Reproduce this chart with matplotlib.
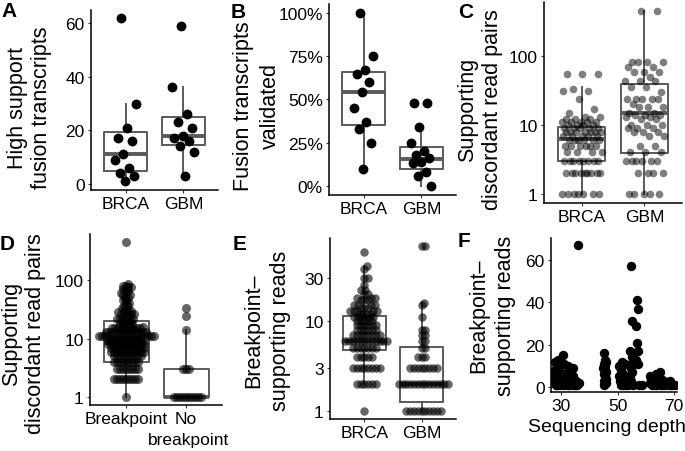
import numpy as np
import matplotlib
matplotlib.use("Agg")
import matplotlib.pyplot as plt

plt.rcParams['font.family'] = ['Liberation Sans', 'DejaVu Sans']

W, H = 685, 452

# ---- data ----
groups = ['BRCA', 'GBM']

# A: high support fusion transcripts per sample
a_brca = [62, 30, 21, 17, 16, 11, 9, 6, 4, 3, 1]
a_gbm = [59, 36, 26, 23, 21, 18, 17, 16, 14, 12, 3]
a_box = [[1, 5, 11, 19.3, 30], [3, 14.7, 18, 24.8, 36]]  # lo, q1, med, q3, hi

# B: fraction validated
b_brca = [1.00, 0.75, 0.67, 0.65, 0.60, 0.545, 0.45, 0.37, 0.33, 0.25, 0.10]
b_gbm = [0.48, 0.48, 0.34, 0.25, 0.20, 0.18, 0.16, 0.14, 0.13, 0.08, 0.06, 0.0]
b_box = [[0.10, 0.35, 0.545, 0.66, 1.0], [0.0, 0.10, 0.155, 0.225, 0.32]]

# C: discordant read pairs (value, count)
c_brca_vals = [1, 2, 3, 4, 5, 6, 7, 8, 9, 10, 11, 12, 13, 15, 17, 24, 31, 33, 55]
c_brca_counts = [7, 9, 8, 4, 6, 6, 5, 7, 5, 4, 5, 3, 2, 1, 1, 1, 2, 1, 3]
c_gbm_vals = [1, 2, 3, 4, 5, 7, 8, 9, 10, 12, 13, 14, 15, 18, 20, 24, 30, 35, 43, 50, 59, 70, 81, 454]
c_gbm_counts = [5, 4, 6, 3, 2, 2, 3, 3, 3, 2, 2, 3, 2, 3, 1, 5, 1, 2, 3, 1, 3, 2, 4, 2]
c_box = [[1, 3, 6.2, 9.2, 35], [1, 3.9, 14.8, 39, 454]]

# D: discordant read pairs by breakpoint status
d_groups = ['Breakpoint', 'No']
d_group2_line2 = 'breakpoint'
d_bp_vals = [1, 2, 3, 4, 5, 6, 7, 8, 9, 10, 11, 12, 13, 14, 15, 16, 18, 20, 22, 24,
             26, 28, 30, 33, 36, 40, 45, 50, 55, 60, 65, 70, 75, 80, 85, 452]
d_bp_counts = [1, 9, 8, 9, 10, 12, 12, 13, 12, 11, 9, 8, 7, 6, 5, 5, 5, 4, 3, 3,
               3, 2, 3, 2, 2, 2, 2, 2, 2, 2, 1, 2, 2, 2, 1, 1]
d_nobp_vals = [1, 3, 14, 24, 33]
d_nobp_counts = [10, 3, 1, 1, 1]
d_box = [[1, 4, 8.5, 20, 85], [1, 1, 1, 3, 14]]

# E: breakpoint-supporting reads
e_brca_vals = [1, 2, 3, 4, 5, 6, 7, 8, 9, 10, 11, 12, 13, 14, 15, 17, 18, 20, 22, 25, 30, 38, 41, 58]
e_brca_counts = [1, 6, 8, 5, 7, 12, 8, 6, 6, 5, 6, 4, 5, 3, 4, 3, 3, 2, 2, 1, 2, 1, 1, 1]
e_gbm_vals = [1, 2, 3, 4, 5, 6, 7, 8, 11, 15, 16, 68]
e_gbm_counts = [10, 14, 8, 3, 2, 2, 2, 2, 1, 1, 1, 2]
e_box = [[2, 4.7, 6, 11.4, 41], [1, 1.26, 2, 5.1, 16]]

# F: reads vs sequencing depth
f_depths = [28, 29, 30, 31, 32, 33, 34, 35, 36, 45.5, 51, 52, 53, 54, 55, 57, 58,
            62, 63, 64, 65, 66, 67, 68, 69, 70]
f_reads = [[1, 2, 3, 4, 5, 6, 8, 10, 12], [1, 2, 4, 7, 13], [1, 3, 5, 9],
           [1, 2, 6, 11, 15], [1, 2, 3, 5], [1, 4, 7, 10], [1, 2, 3, 5, 6, 9],
           [1, 2, 3], [1, 2, 67],
           [1, 2, 3, 4, 5, 6, 7, 8, 9, 10, 11, 12, 13, 16],
           [1, 3, 5, 8, 10, 12], [1, 2, 4, 6, 11], [1], [1],
           [1, 3, 5, 7, 9, 12, 14, 17, 31, 57], [1, 11, 13, 17, 21, 29, 37, 41], [1],
           [1, 2, 3, 4, 5], [1, 2, 6], [1, 3], [1, 2, 4, 7], [1, 3], [1, 2],
           [1, 2, 3], [1, 2], [1]]

BOX_C = '#5a5a5a'


def add_ax(l, t, r, b):
    return fig.add_axes([l / W, 1 - b / H, (r - l) / W, (b - t) / H])


def style(ax):
    for s in ['top', 'right']:
        ax.spines[s].set_visible(False)
    for s in ['left', 'bottom']:
        ax.spines[s].set_linewidth(1.1)
    ax.tick_params(length=2.5, width=0.8, color='#333333', labelsize=12.5,
                   labelcolor='black', pad=2)
    ax.minorticks_off()


def boxes(ax, stats):
    st = [dict(whislo=s[0], q1=s[1], med=s[2], q3=s[3], whishi=s[4], fliers=[])
          for s in stats]
    ax.bxp(st, positions=[1, 2], widths=0.75, showcaps=False, showfliers=False,
           boxprops=dict(color=BOX_C, lw=1.4),
           whiskerprops=dict(color=BOX_C, lw=1.4),
           medianprops=dict(color=BOX_C, lw=2.8), zorder=2)


def jitter(n, width, start=0):
    k = np.arange(n) + start
    return ((k * 0.6180339887 + 0.31) % 1 - 0.5) * 2 * width


def swarm(vals, px_dec, d, px_unit):
    y = np.log10(np.asarray(vals, float)) * px_dec
    xs = np.zeros(len(y))
    placed = []
    for i in np.argsort(y, kind='stable'):
        near = [(px, py) for px, py in placed if abs(py - y[i]) < d]
        cands = [0.0]
        for px, py in near:
            dx = np.sqrt(d * d - (py - y[i]) ** 2)
            cands += [px + dx, px - dx]
        for c in sorted(cands, key=abs):
            if all((c - px) ** 2 + (y[i] - py) ** 2 >= d * d - 1e-6 for px, py in near):
                xs[i] = c
                break
        placed.append((xs[i], y[i]))
    return xs / px_unit


fig = plt.figure(figsize=(W / 100, H / 100), dpi=100)

# ---- A ----
ax = add_ax(91, 10.5, 218, 190.5)
boxes(ax, a_box)
for i, v in enumerate([a_brca, a_gbm]):
    ax.scatter(i + 1 + jitter(len(v), 0.2, i * 5), v, s=50, color='black',
               linewidths=0, zorder=3)
ax.set_ylim(-2.05, 65.05)
ax.set_yticks([0, 20, 40, 60])
ax.set_xlim(0.4, 2.6)
ax.set_xticks([1, 2], groups)
style(ax)

# ---- B ----
ax = add_ax(329, 5.3, 456, 195.6)
boxes(ax, b_box)
for i, v in enumerate([b_brca, b_gbm]):
    ax.scatter(i + 1 + jitter(len(v), 0.18, i * 3), v, s=50, color='black',
               linewidths=0, zorder=3)
ax.set_ylim(-0.05, 1.05)
ax.set_yticks([0, 0.25, 0.5, 0.75, 1.0], ['0%', '25%', '50%', '75%', '100%'])
ax.set_xlim(0.4, 2.6)
ax.set_xticks([1, 2], groups)
style(ax)

# ---- C ----
ax = add_ax(544, 2.5, 682, 204)
ax.set_yscale('log')
boxes(ax, c_box)
for i, (vals, cnts) in enumerate([(c_brca_vals, c_brca_counts), (c_gbm_vals, c_gbm_counts)]):
    v = np.repeat(vals, cnts)
    ax.scatter(i + 1 + jitter(len(v), 0.32, i * 7), v, s=30, color='black',
               alpha=0.5, linewidths=0, zorder=3)
ax.set_ylim(10 ** -0.133, 10 ** 2.79)
ax.set_yticks([1, 10, 100], ['1', '10', '100'])
ax.set_xlim(0.4, 2.6)
ax.set_xticks([1, 2], groups)
style(ax)

# ---- D ----
ax = add_ax(90, 235, 222, 405.8)
ax.set_yscale('log')
boxes(ax, d_box)
for i, (vals, cnts) in enumerate([(d_bp_vals, d_bp_counts), (d_nobp_vals, d_nobp_counts)]):
    v = np.repeat(vals, cnts)
    ax.scatter(i + 1 + swarm(v, 58.5, 3.0, 60), v, s=42, color='black',
               alpha=0.6, linewidths=0, zorder=3)
ax.set_ylim(10 ** -0.133, 10 ** 2.788)
ax.set_yticks([1, 10, 100], ['1', '10', '100'])
ax.set_xlim(0.4, 2.6)
ax.set_xticks([1, 2], d_groups)
style(ax)
# second line of the "No breakpoint" tick label
ax.text(2.05, -0.205, d_group2_line2, transform=ax.get_xaxis_transform(),
        ha='center', va='center', fontsize=12.5)

# ---- E ----
ax = add_ax(330, 238.8, 456, 420.2)
ax.set_yscale('log')
boxes(ax, e_box)
for i, (vals, cnts) in enumerate([(e_brca_vals, e_brca_counts), (e_gbm_vals, e_gbm_counts)]):
    v = np.repeat(vals, cnts)
    ax.scatter(i + 1 + swarm(v, 90, 3.8, 57.3), v, s=37, color='black',
               alpha=0.6, linewidths=0, zorder=3)
ax.set_ylim(10 ** -0.092, 10 ** 1.924)
ax.set_yticks([1, 3, 10, 30], ['1', '3', '10', '30'])
ax.set_xlim(0.4, 2.6)
ax.set_xticks([1, 2], groups)
style(ax)

# ---- F ----
ax = add_ax(551, 239.2, 677, 392.9)
fx = np.concatenate([np.full(len(r), d) for d, r in zip(f_depths, f_reads)])
fy = np.concatenate(f_reads)
ax.scatter(fx + jitter(len(fx), 0.6, 2), fy, s=46, color='black', linewidths=0, zorder=3)
ax.set_xlim(26.46, 71.06)
ax.set_ylim(-2.3, 70.3)
ax.set_xticks([30, 50, 70])
ax.set_yticks([0, 20, 40, 60])
style(ax)

# ---- labels (each line placed on its own) ----
ylabels = [("High support", "fusion transcripts", 29.5, 12, 108),
           ("Fusion transcripts", "validated", 257, 13, 106),
           ("Supporting", "discordant read pairs", 480, 12.5, 110),
           ("Supporting", "discordant read pairs", 24, 12, 334),
           ("Breakpoint\u2013", "supporting reads", 267, 13.5, 331),
           ("Breakpoint\u2013", "supporting reads", 492.5, 13.5, 316)]
for l1, l2, x, half, y in ylabels:
    for txt, xx in [(l1, x - half), (l2, x + half)]:
        fig.text(xx / W, 1 - y / H, txt, rotation=90, ha='center', va='center',
                 fontsize=15.5)

fig.text(607 / W, 1 - 428 / H, "Sequencing depth", ha='center', va='center', fontsize=14)

letters = [("A", 1, 2), ("B", 231, 3), ("C", 458, 3), ("D", 0, 235), ("E", 233, 235), ("F", 458, 232)]
for t, x, y in letters:
    fig.text(x / W, 1 - y / H, t, ha='left', va='top', fontsize=15, fontweight='bold')

fig.savefig('out.png', dpi=100)
